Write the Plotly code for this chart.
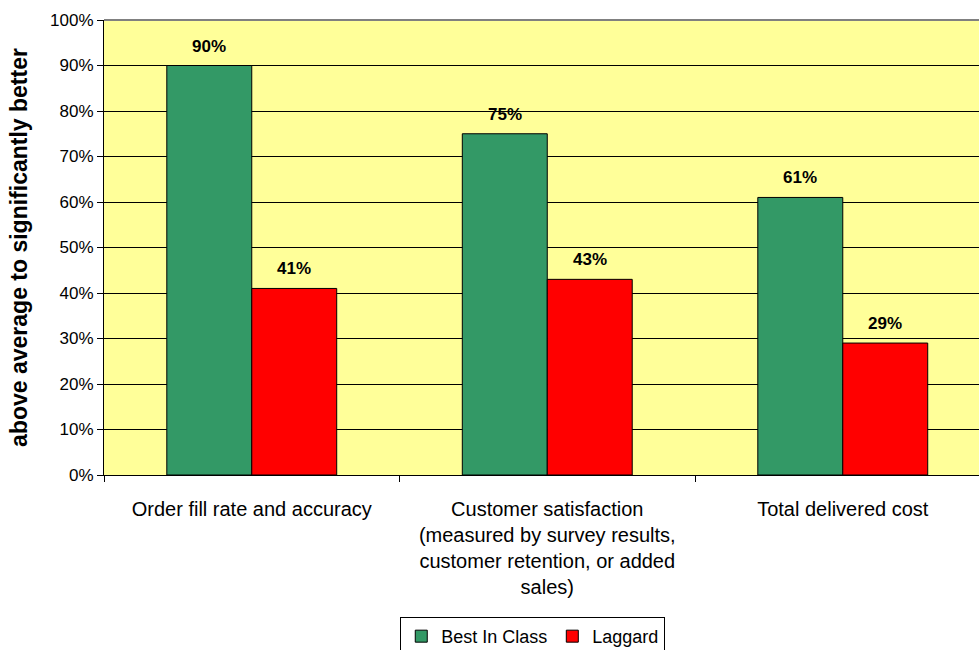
import plotly.graph_objects as go

categories = [
    "Order fill rate and accuracy",
    "Customer satisfaction<br>(measured by survey results,<br>customer retention, or added<br>sales)",
    "Total delivered cost",
]
best_in_class = [0.90, 0.75, 0.61]
laggard = [0.41, 0.43, 0.29]
series_names = ["Best In Class", "Laggard"]
y_ticks = [0, 0.1, 0.2, 0.3, 0.4, 0.5, 0.6, 0.7, 0.8, 0.9, 1.0]

GREEN = "#339966"
RED = "#FF0000"
FONT = "Liberation Sans, Arial, sans-serif"

fig = go.Figure()
for name, vals, color in [(series_names[0], best_in_class, GREEN),
                          (series_names[1], laggard, RED)]:
    fig.add_trace(go.Bar(
        name=name,
        x=categories,
        y=vals,
        marker=dict(color=color, line=dict(color="#000000", width=1)),
    ))

# value labels above each bar
half_bar_px = 42.5
for vals, shift in [(best_in_class, -half_bar_px), (laggard, half_bar_px)]:
    for cat, v in zip(categories, vals):
        fig.add_annotation(
            x=cat, y=v, text=f"<b>{v:.0%}</b>", showarrow=False,
            xshift=shift, yshift=8, yanchor="bottom",
            font=dict(family=FONT, size=17, color="#000000"),
        )

# plot-area top border
fig.add_shape(type="line", xref="paper", yref="paper", x0=0, x1=1, y0=1, y1=1,
              line=dict(color="#808080", width=2))

fig.update_layout(
    width=979, height=650,
    margin=dict(l=104, r=0, t=20, b=175, autoexpand=False),
    paper_bgcolor="#FFFFFF",
    plot_bgcolor="#FFFF99",
    barmode="group",
    bargap=0.425,
    bargroupgap=0,
    font=dict(family=FONT, color="#000000"),
    showlegend=True,
    legend=dict(
        orientation="h",
        x=0.49, xanchor="center",
        y=-0.312, yanchor="top",
        bgcolor="#FFFFFF",
        bordercolor="#000000", borderwidth=1,
        font=dict(family=FONT, size=18, color="#000000"),
        itemwidth=30,
    ),
)

fig.update_xaxes(
    range=[-0.5, 2.461],
    showline=True, linecolor="#000000", linewidth=1,
    ticks="outside", ticklen=6, tickcolor="#000000",
    tickson="boundaries",
    ticklabelstandoff=16,
    tickfont=dict(family=FONT, size=20, color="#000000"),
    showgrid=False,
)
fig.update_yaxes(
    range=[0, 1],
    tickvals=y_ticks,
    tickformat=".0%",
    showline=True, linecolor="#000000", linewidth=1,
    ticks="outside", ticklen=6, tickcolor="#000000",
    tickfont=dict(family=FONT, size=17, color="#000000"),
    showgrid=True, gridcolor="#000000", gridwidth=1,
    zeroline=False,
    title=dict(text="<b>above average to significantly better</b>",
               font=dict(family=FONT, size=23, color="#000000"),
               standoff=16),
)

fig.write_html("out.html")
